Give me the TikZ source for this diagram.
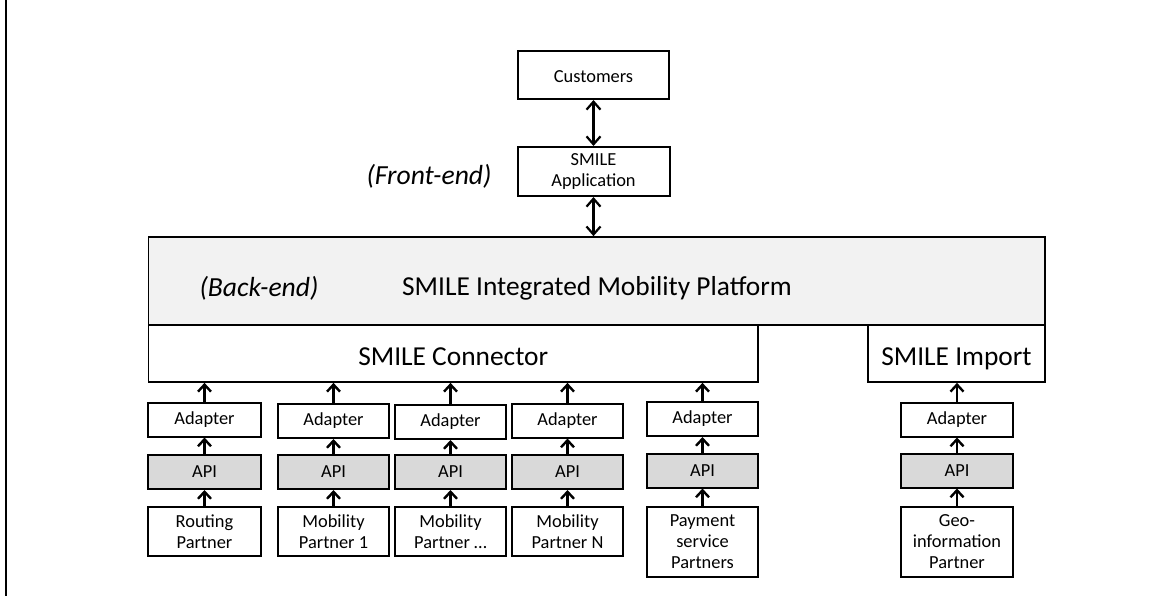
\documentclass[tikz,border=0pt]{standalone}
\usepackage{fontspec}
\setmainfont{Carlito}
\usetikzlibrary{arrows.meta}
\definecolor{platgray}{HTML}{F2F2F2}
\definecolor{apigray}{HTML}{D9D9D9}
\begin{document}
\begin{tikzpicture}[x=0.5pt,y=-0.5pt,
  box/.style={draw,line width=1pt,rectangle,inner sep=0pt,align=center,font=\fontsize{9.2}{10.5}\selectfont},
  apibox/.style={box,fill=apigray},
  bigbox/.style={draw,line width=0.85pt,rectangle,inner sep=0pt,text height=11.5pt,text depth=0pt,font=\fontsize{13.7}{15}\selectfont},
  up/.style={line width=1.2pt,-{Straight Barb[length=3.5pt,width=6.5pt]}},
  twoway/.style={line width=1.1pt,{Straight Barb[length=4pt,width=7pt]}-{Straight Barb[length=4pt,width=7pt]}}]
\useasboundingbox (0,0) rectangle (1172,596);

% Frame line
\draw[line width=1pt] (6,0) -- (6,596);

% Front-end
\node[box,minimum width=75.5pt,minimum height=24pt,text height=7pt,text depth=0pt] (cust) at (593.5,75) {Customers};
\node[box,minimum width=76pt,minimum height=24.5pt] (app) at (593.5,171.5) {SMILE\\Application};
\node[font=\fontsize{13.8}{15}\selectfont\itshape] (frontlbl) at (429,176) {(Front-end)};

% Back-end
\node[bigbox,fill=platgray,minimum width=448.25pt,minimum height=44pt] (plat) at (596.75,281) {};
\node[font=\fontsize{13.7}{15}\selectfont] (platlbl) at (597,288) {SMILE Integrated Mobility Platform};
\node[font=\fontsize{13.8}{15}\selectfont\itshape] (backlbl) at (259,288) {(Back-end)};
\node[bigbox,fill=white,minimum width=304.75pt,minimum height=28.5pt] (con) at (453.25,353.5) {SMILE Connector};
\node[bigbox,fill=white,minimum width=88.5pt,minimum height=28.5pt] (imp) at (956.5,353.5) {SMILE Import};

\draw[twoway] (cust) -- (app);
\draw[twoway] (app.south) -- (app.south |- plat.north);

% Partner columns
\foreach \n/\x/\w/\ya/\yb/\yc/\h/\txt/\tgt in {
  1/204.5/56.5pt/419.5/472/531.5/24.5pt/{Routing\\Partner}/con,
  2/333.5/55.5pt/421/472/531.5/24.5pt/{Mobility\\Partner 1}/con,
  3/450.5/55.5pt/422/472/531.5/24.5pt/{Mobility\\Partner …}/con,
  4/567.5/55.5pt/420.5/472/531.5/24.5pt/{Mobility\\Partner N}/con,
  5/702.5/55.5pt/419/470.5/542/35pt/{Payment\\service\\Partners}/con,
  6/957/56pt/419.5/470.5/542/35pt/{Geo-\\information\\Partner}/imp}
{
  \node[box,minimum width=\w,minimum height=17pt] (ad\n) at (\x,\ya) {Adapter};
  \node[apibox,minimum width=\w,minimum height=17pt] (api\n) at (\x,\yb) {API};
  \node[box,minimum width=\w,minimum height=\h] (pa\n) at (\x,\yc) {\txt};
  \draw[up] (pa\n) -- (api\n);
  \draw[up] (api\n) -- (ad\n);
  \draw[up] (ad\n) -- (ad\n |- \tgt.south);
}
\end{tikzpicture}
\end{document}
